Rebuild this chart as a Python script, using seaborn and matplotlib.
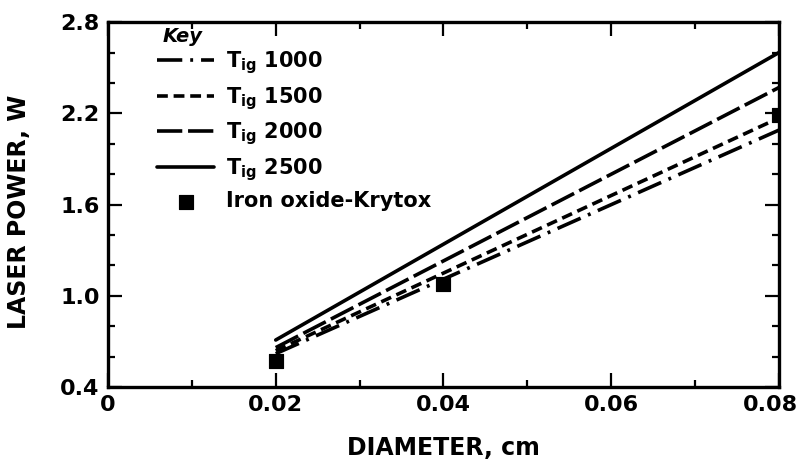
import numpy as np
import matplotlib
matplotlib.use("Agg")
import matplotlib.pyplot as plt
import matplotlib.transforms as mtransforms
import seaborn as sns

# Data
diameter = [0.02, 0.08]
labels = ["T$_{\\mathregular{ig}}$ 1000", "T$_{\\mathregular{ig}}$ 1500",
          "T$_{\\mathregular{ig}}$ 2000", "T$_{\\mathregular{ig}}$ 2500"]
power_1000 = [0.62, 2.09]
power_1500 = [0.64, 2.17]
power_2000 = [0.66, 2.37]
power_2500 = [0.71, 2.60]

exp_diameter = [0.02, 0.04, 0.08]
exp_power = [0.57, 1.08, 2.19]
exp_label = "Iron oxide-Krytox"

x_ticks = [0, 0.02, 0.04, 0.06, 0.08]
x_ticklabels = ["0", "0.02", "0.04", "0.06", "0.08"]
y_ticks = [0.4, 1.0, 1.6, 2.2, 2.8]
y_ticklabels = ["0.4", "1.0", "1.6", "2.2", "2.8"]

sns.set_style("white")
plt.rcParams["font.family"] = ["DejaVu Sans"]
plt.rcParams["font.weight"] = "bold"
plt.rcParams["mathtext.default"] = "regular"
plt.rcParams["text.color"] = "black"
plt.rcParams["axes.labelcolor"] = "black"
plt.rcParams["xtick.color"] = "black"
plt.rcParams["ytick.color"] = "black"

fig = plt.figure(figsize=(8.03, 4.71), dpi=100)
ax = fig.add_axes([0.1345, 0.178, 0.8355, 0.775])

dash_styles = [(0, (7, 2.2, 0.8, 2.2)),
               (0, (3, 1.6)),
               (0, (7, 1.6)),
               "solid"]
series = [power_1000, power_1500, power_2000, power_2500]
for lab, ys, ls in zip(labels, series, dash_styles):
    sns.lineplot(x=diameter, y=ys, ax=ax, color="black", lw=2.6,
                 linestyle=ls, label=lab)

sns.scatterplot(x=exp_diameter, y=exp_power, ax=ax, marker="s", s=110,
                color="black", edgecolor="black", label=exp_label, zorder=5)

ax.set_xlim(0, 0.08)
ax.set_ylim(0.4, 2.8)
ax.set_xticks(x_ticks)
ax.set_xticklabels(x_ticklabels)
ax.set_xticks(np.arange(0.01, 0.08, 0.02), minor=True)
ax.set_yticks(y_ticks)
ax.set_yticklabels(y_ticklabels)
ax.set_yticks(np.arange(0.6, 2.8, 0.2), minor=True)

ax.tick_params(which="both", direction="in", top=True, right=True,
               left=True, bottom=True, labelsize=16, width=1.6, pad=6)
ax.tick_params(which="major", length=10)
ax.tick_params(which="minor", length=5)
for sp in ax.spines.values():
    sp.set_linewidth(2.4)
    sp.set_color("black")

# last x label sits a little left of its tick, as in the reference
last = ax.get_xticklabels()[-1]
last.set_transform(last.get_transform() +
                   mtransforms.ScaledTranslation(-0.08, 0, fig.dpi_scale_trans))

ax.set_xlabel("DIAMETER, cm", fontsize=17, fontweight="bold")
ax.set_ylabel("LASER POWER, W", fontsize=17, fontweight="bold")
ax.xaxis.set_label_coords(0.5, -0.135)
ax.yaxis.set_label_coords(-0.115, 0.48)

ax.text(0.081, 0.962, "Key", transform=ax.transAxes, fontsize=14,
        fontweight="bold", fontstyle="italic", va="center", ha="left")
ax.legend(loc="upper left", bbox_to_anchor=(0.055, 0.96), frameon=False,
          fontsize=15, handlelength=2.7, handletextpad=0.6,
          labelspacing=0.42, borderpad=0.1)

fig.savefig("out.png", dpi=100)
